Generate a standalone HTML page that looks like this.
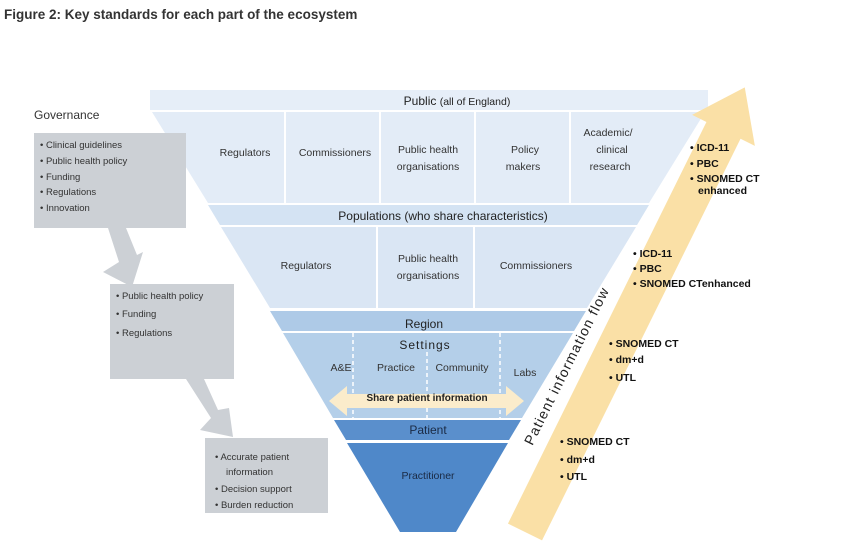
<!DOCTYPE html>
<html><head><meta charset="utf-8"><style>
html,body{margin:0;padding:0;background:#fff;}
svg{display:block;font-family:"Liberation Sans",Arial,sans-serif;}
</style></head><body>
<svg width="861" height="543" viewBox="0 0 861 543" xmlns="http://www.w3.org/2000/svg">
<text x="4" y="19" font-size="13.5" font-weight="bold" fill="#333">Figure 2:  Key standards for each part of the ecosystem</text>

<!-- Public -->
<rect x="150" y="90" width="558" height="20" fill="#e6eef8"/>
<text x="457" y="105" font-size="12" text-anchor="middle" fill="#222">Public <tspan font-size="10.5">(all of England)</tspan></text>
<polygon points="152,112 705,112 649,203 208,203" fill="#e3ecf7"/>
<g stroke="#fff" stroke-width="2"><line x1="285" y1="112" x2="285" y2="203"/><line x1="380" y1="112" x2="380" y2="203"/><line x1="475" y1="112" x2="475" y2="203"/><line x1="570" y1="112" x2="570" y2="203"/></g>
<g font-size="10.5" fill="#333" text-anchor="middle">
<text x="245" y="156">Regulators</text>
<text x="335" y="156">Commissioners</text>
<text x="428" y="153">Public health</text><text x="428" y="170">organisations</text>
<text x="525" y="153">Policy</text><text x="523" y="170">makers</text>
<text x="608" y="136">Academic/</text><text x="612" y="153">clinical</text><text x="610" y="170">research</text>
</g>

<!-- Populations -->
<polygon points="208,205 649,205 637,225 220,225" fill="#d4e3f3"/>
<text x="443" y="220" font-size="12" text-anchor="middle" fill="#222">Populations (who share characteristics)</text>
<polygon points="221,227 636,227 587,308 270,308" fill="#dae6f4"/>
<g stroke="#fff" stroke-width="2"><line x1="377" y1="227" x2="377" y2="308"/><line x1="474" y1="227" x2="474" y2="308"/></g>
<g font-size="10.5" fill="#333" text-anchor="middle">
<text x="306" y="269">Regulators</text>
<text x="428" y="262">Public health</text><text x="428" y="279">organisations</text>
<text x="536" y="269">Commissioners</text>
</g>

<!-- Region -->
<polygon points="270,311 586,311 574,331 282,331" fill="#aecae7"/>
<text x="424" y="328" font-size="12" text-anchor="middle" fill="#222">Region</text>
<polygon points="283,333 573,333 522,418 333,418" fill="#b4cfe9"/>
<g stroke="#fff" stroke-width="1.5" stroke-dasharray="4,3"><line x1="353" y1="333" x2="353" y2="418"/><line x1="427" y1="352" x2="427" y2="418"/><line x1="500" y1="333" x2="500" y2="418"/></g>
<text x="425" y="349" font-size="12" text-anchor="middle" fill="#222" letter-spacing="1">Settings</text>
<g font-size="10.5" fill="#333" text-anchor="middle">
<text x="341" y="371">A&amp;E</text><text x="396" y="371">Practice</text><text x="462" y="371">Community</text><text x="525" y="376">Labs</text>
</g>
<polygon points="329,401 347,386 347,394 506,394 506,386 524,401 506,416 506,408 347,408 347,416" fill="#fbeccb"/>
<text x="427" y="401" font-size="10" font-weight="bold" text-anchor="middle" fill="#222">Share patient  information</text>

<!-- Patient -->
<polygon points="334,420 521,420 509,440 346,440" fill="#5a8fcc"/>
<text x="428" y="434" font-size="12" text-anchor="middle" fill="#1a2a44">Patient</text>
<polygon points="347,443 508,443 456,532 400,532" fill="#4f88c9"/>
<text x="428" y="479" font-size="10.5" text-anchor="middle" fill="#1a2a44">Practitioner</text>

<!-- Orange arrow -->
<g transform="translate(525,532) rotate(-63.7)">
<polygon points="0,-19 448,-19 448,-35 496,0 448,35 448,19 0,19" fill="#fae0a6"/>
</g>
<text transform="translate(571,368) rotate(-63.7)" font-size="14" text-anchor="middle" fill="#222" letter-spacing="1.2">Patient information flow</text>

<g font-size="10.5" font-weight="bold" fill="#111">
<text x="690" y="151">• ICD-11</text><text x="690" y="167">• PBC</text><text x="690" y="182">• SNOMED CT</text><text x="698" y="194">enhanced</text>
<text x="633" y="257">• ICD-11</text><text x="633" y="272">• PBC</text><text x="633" y="287">• SNOMED CTenhanced</text>
<text x="609" y="347">• SNOMED CT</text><text x="609" y="363">• dm+d</text><text x="609" y="381">• UTL</text>
<text x="560" y="445">• SNOMED CT</text><text x="560" y="463">• dm+d</text><text x="560" y="480">• UTL</text>
</g>

<!-- Governance -->
<text x="34" y="119" font-size="12" fill="#333">Governance</text>
<rect x="34" y="133" width="152" height="95" fill="#ccd0d5"/>
<g font-size="9.5" fill="#333">
<text x="40" y="148">•  Clinical guidelines</text><text x="40" y="164">•  Public health policy</text><text x="40" y="180">•  Funding</text><text x="40" y="195">•  Regulations</text><text x="40" y="211">•  Innovation</text>
</g>
<polygon points="108,228 126,228 137,255 143,252 132,287 103,272 119,262" fill="#ccd0d5"/>
<rect x="110" y="284" width="124" height="95" fill="#ccd0d5"/>
<g font-size="9.5" fill="#333">
<text x="116" y="299">•  Public health policy</text><text x="116" y="317">•  Funding</text><text x="116" y="336">•  Regulations</text>
</g>
<polygon points="186,379 204,379 218,410 229,408 233,437 200,430 211,418" fill="#ccd0d5"/>
<rect x="205" y="438" width="123" height="75" fill="#ccd0d5"/>
<g font-size="9.5" fill="#333">
<text x="215" y="460">•  Accurate patient</text><text x="226" y="475">information</text><text x="215" y="492">•  Decision support</text><text x="215" y="508">•  Burden reduction</text>
</g>
</svg>
</body></html>
